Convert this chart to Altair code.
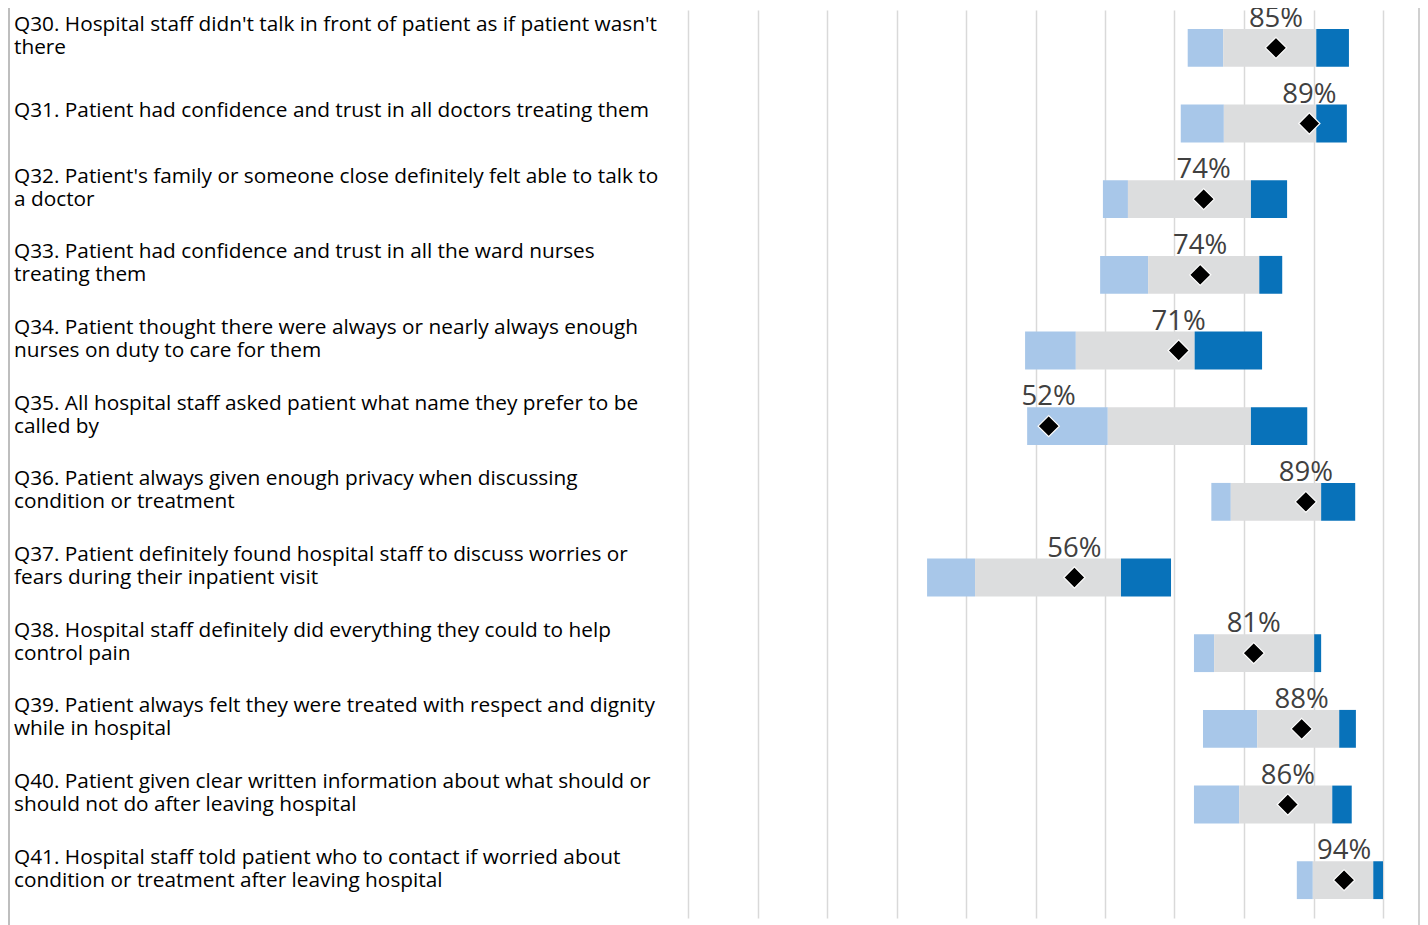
import altair as alt
import pandas as pd

codes = ["Q30", "Q31", "Q32", "Q33", "Q34", "Q35", "Q36", "Q37", "Q38", "Q39", "Q40", "Q41"]
label_lines = [
    ["Q30. Hospital staff didn't talk in front of patient as if patient wasn't", "there"],
    ["Q31. Patient had confidence and trust in all doctors treating them"],
    ["Q32. Patient's family or someone close definitely felt able to talk to", "a doctor"],
    ["Q33. Patient had confidence and trust in all the ward nurses", "treating them"],
    ["Q34. Patient thought there were always or nearly always enough", "nurses on duty to care for them"],
    ["Q35. All hospital staff asked patient what name they prefer to be", "called by"],
    ["Q36. Patient always given enough privacy when discussing", "condition or treatment"],
    ["Q37. Patient definitely found hospital staff to discuss worries or", "fears during their inpatient visit"],
    ["Q38. Hospital staff definitely did everything they could to help", "control pain"],
    ["Q39. Patient always felt they were treated with respect and dignity", "while in hospital"],
    ["Q40. Patient given clear written information about what should or", "should not do after leaving hospital"],
    ["Q41. Hospital staff told patient who to contact if worried about", "condition or treatment after leaving hospital"],
]
low = [71.9, 70.9, 59.7, 59.3, 48.5, 48.8, 75.3, 34.4, 72.8, 74.1, 72.8, 87.6]
q1 = [77.0, 77.1, 63.3, 66.2, 55.8, 60.4, 78.1, 41.3, 75.7, 81.9, 79.3, 89.9]
q3 = [90.4, 90.4, 81.0, 82.2, 72.9, 81.0, 91.1, 62.3, 90.1, 93.7, 92.7, 98.6]
high = [95.1, 94.8, 86.2, 85.5, 82.6, 89.1, 96.0, 69.5, 91.1, 96.1, 95.5, 100.0]
score = [84.6, 89.4, 74.2, 73.7, 70.6, 51.9, 88.9, 55.6, 81.4, 88.3, 86.3, 94.4]
grid_values = [0, 10, 20, 30, 40, 50, 60, 70, 80, 90, 100]

df = pd.DataFrame({
    "code": codes,
    "lines": label_lines,
    "low": low,
    "q1": q1,
    "q3": q3,
    "high": high,
    "score": score,
})
one_row = pd.DataFrame({"k": [0]})

FONT = "Open Sans"
W = 695
H = 908
PAD_LEFT = 680
LINE_H = 23

yscale = alt.Scale(domain=codes, paddingInner=0.5, paddingOuter=0.25)
xscale = alt.Scale(domain=[0, 100], nice=False, zero=False)
xaxis = alt.Axis(grid=True, values=grid_values, labels=False, ticks=False,
                 domain=False, title=None, gridColor="#D9D9D9", gridWidth=1.5)
y_enc = alt.Y("code:N", scale=yscale, axis=None)

base = alt.Chart(df)


def label_layer(n_lines, dy):
    return base.transform_calculate(
        nl="length(datum.lines)"
    ).transform_filter(
        f"datum.nl == {n_lines}"
    ).mark_text(
        align="left", baseline="middle", dy=dy, fontSize=20.8, lineHeight=LINE_H,
        font=FONT, color="#000000"
    ).encode(
        y=y_enc,
        x=alt.value(-674),
        text="lines",
    )


labels_one = label_layer(1, -12.5)
labels_two = label_layer(2, -22.5)

light = base.mark_bar(color="#A8C7E9").encode(
    x=alt.X("low:Q", scale=xscale, axis=xaxis), x2="q1:Q", y=y_enc)
mid = base.mark_bar(color="#DCDDDE").encode(
    x=alt.X("q1:Q", scale=xscale, axis=xaxis), x2="q3:Q", y=y_enc)
dark = base.mark_bar(color="#0872BA").encode(
    x=alt.X("q3:Q", scale=xscale, axis=xaxis), x2="high:Q", y=y_enc)
diamond = base.mark_point(
    shape="diamond", filled=True, size=450, color="#000000",
    stroke="#FFFFFF", strokeWidth=1.2, opacity=1
).encode(x=alt.X("score:Q", scale=xscale, axis=xaxis), y=y_enc)
pct = base.transform_calculate(
    lab="format(datum.score, '.0f') + '%'"
).mark_text(
    baseline="alphabetic", dy=-2, fontSize=27.5, font=FONT, color="#404040"
).encode(
    x=alt.X("score:Q", scale=xscale, axis=xaxis),
    y=alt.Y("code:N", scale=yscale, axis=None, bandPosition=0),
    text="lab:N",
)

frame_left = alt.Chart(one_row).mark_rule(color="#A8A8A8", strokeWidth=1.5).encode(
    x=alt.value(-679), y=alt.value(-2), y2=alt.value(H + 7))
frame_right = alt.Chart(one_row).mark_rule(color="#C0C0C0", strokeWidth=1.5).encode(
    x=alt.value(W + 36), y=alt.value(-2), y2=alt.value(H + 7))

chart = alt.layer(frame_left, frame_right, light, mid, dark, diamond, pct,
                  labels_one, labels_two).properties(
    width=W,
    height=H,
    autosize=alt.AutoSizeParams(type="none"),
    padding={"left": PAD_LEFT, "top": 2, "right": 37, "bottom": 7},
    background="#FFFFFF",
).configure_view(stroke=None)

chart.save("out.html", embed_options={"renderer": "svg", "actions": False})
